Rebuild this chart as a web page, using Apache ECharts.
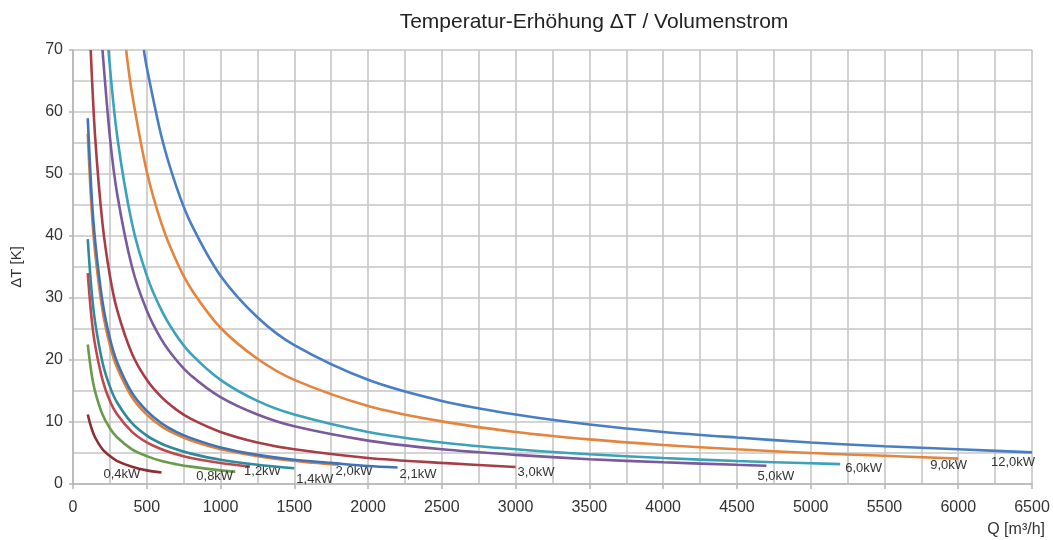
<!DOCTYPE html>
<html>
<head>
<meta charset="utf-8">
<script src="https://cdn.jsdelivr.net/npm/echarts@6/dist/echarts.min.js"></script>
<style>
html,body{margin:0;padding:0;background:#fff;}
#chart{width:1053px;height:540px;}
</style>
</head>
<body>
<div id="chart"></div>
<script>
// Curve labels (power levels)
const powerLabels = ['0,4kW','0,8kW','1,2kW','1,4kW','2,0kW','2,1kW','3,0kW','5,0kW','6,0kW','9,0kW','12,0kW'];
const colors = ['#8B2F33','#6A9B4B','#C0474D','#2F8A9C','#E0813A','#3F73B8','#A83E45','#7A5A9C','#3BA2BA','#E5843C','#4A7EC4'];

// Volumenstrom Q [m³/h] and ΔT [K]
const q_04 = [100,125,150,200,250,300,400,500,600];
const t_04 = [11.2,9.0,7.5,5.6,4.5,3.7,2.8,2.2,1.85];

const q_08 = [100,125,150,200,250,300,400,500,600,700,800,1000,1100];
const t_08 = [22.5,17.9,14.9,11.2,9.0,7.5,5.6,4.5,3.7,3.2,2.8,2.2,2.0];

const q_12 = [100,125,150,200,250,300,400,500,600,700,800,1000,1200];
const t_12 = [34.0,26.9,22.4,16.8,13.4,11.2,8.4,6.7,5.6,4.8,4.2,3.4,2.8];

const q_14 = [100,125,150,200,250,300,400,500,600,700,800,1000,1250,1500];
const t_14 = [39.5,31.4,26.1,19.6,15.7,13.1,9.8,7.8,6.5,5.6,4.9,3.9,3.1,2.55];

const q_20 = [100,125,150,200,250,300,400,500,600,700,800,1000,1250,1500,1800];
const t_20 = [56.5,44.8,37.3,28.0,22.4,18.7,14.0,11.2,9.3,8.0,7.0,5.6,4.5,3.7,3.1];

const q_21 = [100,125,150,200,250,300,400,500,600,700,800,1000,1250,1500,1750,2000,2200];
const t_21 = [59.0,47.0,39.2,29.4,23.5,19.6,14.7,11.8,9.8,8.4,7.4,5.9,4.7,3.9,3.4,2.9,2.65];

const q_30 = [120,150,200,250,300,400,500,600,700,800,1000,1250,1500,2000,2500,3000];
const t_30 = [70.0,56.0,42.0,33.6,28.0,21.0,16.8,14.0,12.0,10.5,8.4,6.7,5.6,4.2,3.4,2.75];

const q_50 = [200,250,300,400,500,600,700,800,1000,1250,1500,2000,2500,3000,3500,4000,4500,4700];
const t_50 = [70.0,56.0,46.7,35.0,28.0,23.3,20.0,17.5,14.0,11.2,9.3,7.0,5.6,4.7,4.0,3.5,3.1,2.95];

const q_60 = [240,300,400,500,600,700,800,1000,1250,1500,2000,2500,3000,3500,4000,4500,5000,5200];
const t_60 = [70.0,56.0,42.0,33.6,28.0,24.0,21.0,16.8,13.4,11.2,8.4,6.7,5.6,4.8,4.2,3.7,3.35,3.2];

const q_90 = [360,400,500,600,700,800,1000,1250,1500,2000,2500,3000,3500,4000,4500,5000,5500,6000];
const t_90 = [70.0,63.0,50.4,42.0,36.0,31.5,25.2,20.2,16.8,12.6,10.1,8.4,7.2,6.3,5.6,5.0,4.55,4.1];

const q_120 = [480,500,600,700,800,1000,1250,1500,2000,2500,3000,3500,4000,4500,5000,5500,6000,6500];
const t_120 = [70.0,67.2,56.0,48.0,42.0,33.6,26.9,22.4,16.8,13.4,11.2,9.6,8.4,7.5,6.7,6.1,5.6,5.1];

const curvesQ = [q_04,q_08,q_12,q_14,q_20,q_21,q_30,q_50,q_60,q_90,q_120];
const curvesT = [t_04,t_08,t_12,t_14,t_20,t_21,t_30,t_50,t_60,t_90,t_120];

// label offsets relative to curve end [dx, dy] (px)
const labelOffsets = [[-58,2],[-39,5],[-6,5],[2,11],[-3,7],[2,7],[2,5],[-9,11],[5,4],[-28,7],[-41,10]];

const xTicks = {min:0, max:6500, interval:500};
const yTicks = {min:0, max:70, interval:10};

const FONT = 'Liberation Sans, Arial, sans-serif';
const chart = echarts.init(document.getElementById('chart'), null, {renderer:'canvas'});

const series = curvesQ.map((qs, i) => {
  const ts = curvesT[i];
  const data = qs.map((q, j) => [q, ts[j]]);
  const last = data[data.length - 1];
  return {
    type: 'line',
    name: powerLabels[i],
    data: data,
    smooth: 0.3,
    showSymbol: false,
    symbol: 'none',
    clip: true,
    lineStyle: {color: colors[i], width: 2.6},
    itemStyle: {color: colors[i]},
    z: 2 + i,
    markPoint: {
      symbol: 'circle',
      symbolSize: 0,
      silent: true,
      animation: false,
      data: [{coord: last, value: powerLabels[i]}],
      label: {
        show: true,
        position: 'right',
        distance: 0,
        offset: labelOffsets[i],
        formatter: powerLabels[i],
        color: '#333',
        fontSize: 13,
        fontFamily: FONT
      }
    }
  };
});

chart.setOption({
  animation: false,
  backgroundColor: '#ffffff',
  title: {
    text: 'Temperatur-Erhöhung ΔT / Volumenstrom',
    left: 589,
    top: 7,
    textAlign: 'center',
    textStyle: {fontSize: 21, fontWeight: 'normal', color: '#222', fontFamily: FONT}
  },
  grid: {left: 73, right: 21, top: 50, bottom: 56, containLabel: false},
  xAxis: {
    type: 'value',
    min: xTicks.min, max: xTicks.max, interval: xTicks.interval,
    name: 'Q [m³/h]',
    nameLocation: 'end',
    nameGap: 0,
    nameTextStyle: {color: '#333', fontSize: 16, align: 'right', verticalAlign: 'top', padding: [38, -13, 0, 0], fontFamily: FONT},
    axisLine: {show: true, lineStyle: {color: '#b5b5b5', width: 1.5}},
    axisTick: {show: true, length: 5, lineStyle: {color: '#b5b5b5', width: 1.5}},
    axisLabel: {color: '#333', fontSize: 16, margin: 16, fontFamily: FONT, formatter: v => String(v)},
    splitLine: {show: true, lineStyle: {color: '#c6c6c6', width: 1.6}},
    minorTick: {show: false, splitNumber: 2},
    minorSplitLine: {show: true, lineStyle: {color: '#c6c6c6', width: 1.6}}
  },
  yAxis: {
    type: 'value',
    min: yTicks.min, max: yTicks.max, interval: yTicks.interval,
    name: 'ΔT [K]',
    nameLocation: 'middle',
    nameGap: 49,
    nameRotate: 90,
    nameTextStyle: {color: '#333', fontSize: 15, fontFamily: FONT},
    axisLine: {show: true, lineStyle: {color: '#b5b5b5', width: 1.5}},
    axisTick: {show: true, length: 4, lineStyle: {color: '#b5b5b5', width: 1.5}},
    axisLabel: {color: '#333', fontSize: 16, margin: 10, fontFamily: FONT, formatter: v => String(v)},
    splitLine: {show: true, lineStyle: {color: '#c6c6c6', width: 1.6}},
    minorTick: {show: false, splitNumber: 2},
    minorSplitLine: {show: true, lineStyle: {color: '#c6c6c6', width: 1.6}}
  },
  series: series
});
</script>
</body>
</html>
